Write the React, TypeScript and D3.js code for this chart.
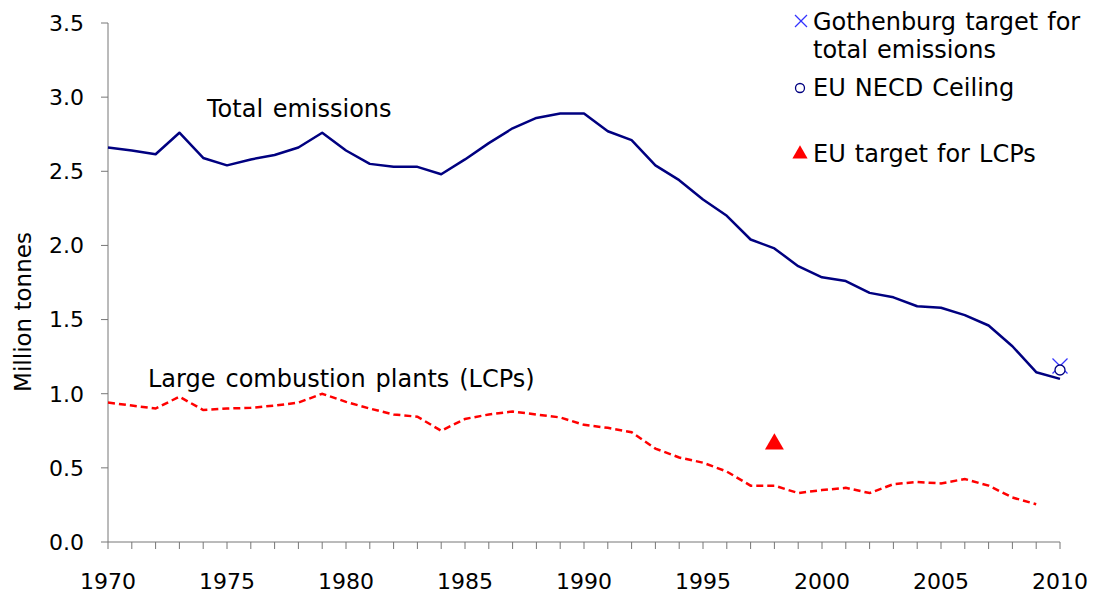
import React from "react";
import * as d3 from "d3";

const years: number[] = d3.range(1970, 2011);
const totalEmissions: number[] = [
  2.66, 2.64, 2.615, 2.76, 2.59, 2.54, 2.58, 2.61, 2.66, 2.76,
  2.64, 2.55, 2.53, 2.53, 2.48, 2.58, 2.69, 2.79, 2.86, 2.89,
  2.89, 2.77, 2.71, 2.54, 2.44, 2.31, 2.2, 2.04, 1.98, 1.86,
  1.785, 1.76, 1.68, 1.65, 1.59, 1.58, 1.53, 1.46, 1.32, 1.145,
  1.1,
];
const lcpYears: number[] = d3.range(1970, 2010);
const lcpEmissions: number[] = [
  0.94, 0.92, 0.9, 0.98, 0.89, 0.9, 0.905, 0.92, 0.94, 1.0,
  0.945, 0.9, 0.86, 0.845, 0.75, 0.83, 0.86, 0.88, 0.86, 0.84,
  0.79, 0.77, 0.74, 0.63, 0.57, 0.535, 0.475, 0.38, 0.38, 0.33,
  0.35, 0.365, 0.33, 0.39, 0.405, 0.395, 0.425, 0.38, 0.3, 0.255,
];
const gothenburgTarget = { year: 2010, value: 1.187 };
const necdCeiling = { year: 2010, value: 1.16 };
const lcpTarget = { year: 1998, value: 0.66 };
const yTicks: number[] = [0, 0.5, 1, 1.5, 2, 2.5, 3, 3.5];
const xTickLabels: number[] = [1970, 1975, 1980, 1985, 1990, 1995, 2000, 2005, 2010];

const FONT = "'DejaVu Sans', Verdana, sans-serif";

export default function App() {
  const W = 1095, H = 594;
  const x = d3.scaleLinear().domain([1970, 2010]).range([108, 1060]);
  const y = d3.scaleLinear().domain([0, 3.5]).range([542, 23]);

  const line = d3.line<[number, number]>().x((d) => x(d[0])).y((d) => y(d[1]));
  const totalPath = line(years.map((yr, i) => [yr, totalEmissions[i]]))!;
  const lcpPath = line(lcpYears.map((yr, i) => [yr, lcpEmissions[i]]))!;

  const tri = d3.symbol().type(d3.symbolTriangle).size(155)()!;
  const triSmall = d3.symbol().type(d3.symbolTriangle).size(100)()!;

  const gx = x(gothenburgTarget.year), gy = y(gothenburgTarget.value);
  const cx = x(necdCeiling.year), cy = y(necdCeiling.value);

  return (
    <svg width={W} height={H} style={{ position: "absolute", left: 0, top: 0, background: "#fff" }} fontFamily={FONT}>
      {/* axes */}
      <line x1={108} x2={108} y1={y(3.5)} y2={542} stroke="#777" strokeWidth={1} />
      <line x1={108} x2={1060} y1={542} y2={542} stroke="#777" strokeWidth={1} />
      {yTicks.map((t) => (
        <g key={"y" + t}>
          <line x1={101} x2={108} y1={y(t)} y2={y(t)} stroke="#777" />
          <text x={84} y={y(t)} dy="0.36em" textAnchor="end" fontSize={22} fill="#000">
            {t.toFixed(1)}
          </text>
        </g>
      ))}
      {years.map((yr) => (
        <line key={"xt" + yr} x1={x(yr)} x2={x(yr)} y1={542} y2={549} stroke="#777" />
      ))}
      {xTickLabels.map((yr) => (
        <text key={"xl" + yr} x={x(yr)} y={589} textAnchor="middle" fontSize={22} fill="#000">
          {yr}
        </text>
      ))}
      <text transform={`translate(31,312) rotate(-90)`} textAnchor="middle" fontSize={23} fill="#000">
        Million tonnes
      </text>

      {/* series */}
      <path d={totalPath} fill="none" stroke="#000080" strokeWidth={2.5} strokeLinejoin="round" />
      <path d={lcpPath} fill="none" stroke="#ff0000" strokeWidth={2.5} strokeDasharray="7,4" />

      {/* markers */}
      <path d={tri} transform={`translate(${x(lcpTarget.year)},${y(lcpTarget.value)})`} fill="#ff0000" />
      <g stroke="#3333ff" strokeWidth={1.3}>
        <line x1={gx - 7.5} x2={gx + 7.5} y1={gy - 7.5} y2={gy + 7.5} />
        <line x1={gx - 7.5} x2={gx + 7.5} y1={gy + 7.5} y2={gy - 7.5} />
      </g>
      <circle cx={cx} cy={cy} r={5} fill="#fff" stroke="#000080" strokeWidth={1.3} />

      {/* annotations */}
      <text x={207} y={117} fontSize={24} wordSpacing={2} fill="#000">Total emissions</text>
      <text x={148} y={387} fontSize={24} wordSpacing={2.3} fill="#000">Large combustion plants (LCPs)</text>

      {/* legend */}
      <g stroke="#3333ff" strokeWidth={1.3}>
        <line x1={795} x2={807} y1={15} y2={27} />
        <line x1={795} x2={807} y1={27} y2={15} />
      </g>
      <text x={813} y={30} fontSize={24} wordSpacing={1.5} fill="#000">Gothenburg target for</text>
      <text x={813} y={58} fontSize={24} wordSpacing={1.5} fill="#000">total emissions</text>
      <circle cx={800} cy={88} r={4.5} fill="#fff" stroke="#000080" strokeWidth={1.3} />
      <text x={813} y={96} fontSize={24} wordSpacing={1.5} fill="#000">EU NECD Ceiling</text>
      <path d={triSmall} transform="translate(800,154)" fill="#ff0000" />
      <text x={813} y={162} fontSize={24} wordSpacing={1.5} fill="#000">EU target for LCPs</text>
    </svg>
  );
}
